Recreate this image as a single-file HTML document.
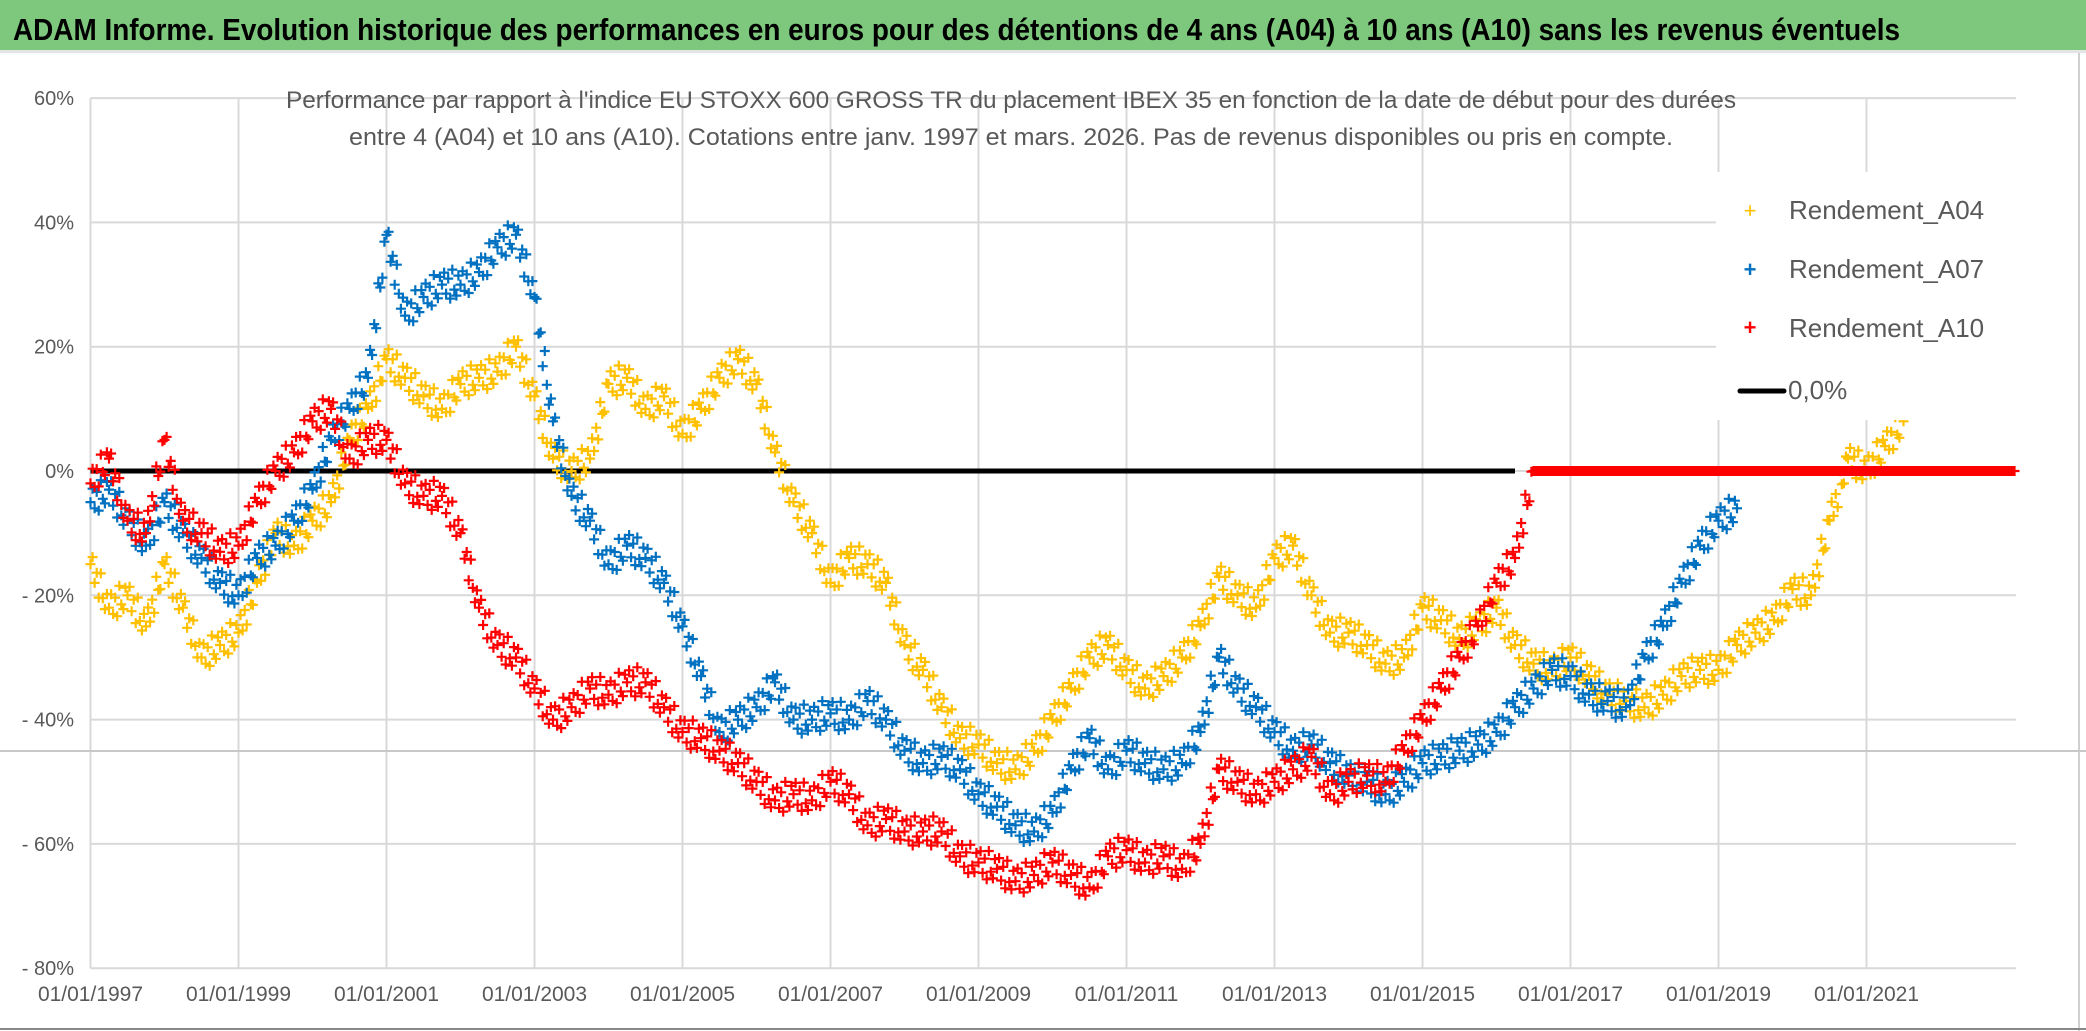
<!DOCTYPE html>
<html><head><meta charset="utf-8"><style>
html,body{margin:0;padding:0;background:#fff;}
svg{display:block;font-family:"Liberation Sans Narrow","Liberation Sans",sans-serif;}
</style></head><body>
<svg id="chart" width="2086" height="1031" viewBox="0 0 2086 1031" xmlns="http://www.w3.org/2000/svg">
<rect x="0" y="0" width="2086" height="1031" fill="#fff"/>
<rect x="0" y="0" width="2086" height="50" fill="#7DC87D"/>
<rect x="0" y="50" width="2086" height="3" fill="#e4e4e4"/>
<text x="13" y="40" font-size="31" font-weight="bold" fill="#000" textLength="1887" lengthAdjust="spacingAndGlyphs">ADAM Informe. Evolution historique des performances en euros pour des détentions de 4 ans (A04) à 10 ans (A10) sans les revenus éventuels</text>
<line x1="2079" y1="53" x2="2079" y2="1031" stroke="#d0d0d0" stroke-width="2"/>
<line x1="0" y1="1029" x2="2086" y2="1029" stroke="#888" stroke-width="2"/>
<g id="grid"></g>
<g id="axes"></g>
<line x1="0" y1="751" x2="2086" y2="751" stroke="#c8c8c8" stroke-width="2"/>
<g id="marks"></g>
<g>
<text x="1011" y="108" font-size="24" fill="#595959" text-anchor="middle" textLength="1450" lengthAdjust="spacingAndGlyphs">Performance par rapport à l'indice EU STOXX 600 GROSS TR  du placement IBEX 35 en fonction de la date de début pour des durées</text>
<text x="1011" y="145" font-size="24" fill="#595959" text-anchor="middle" textLength="1324" lengthAdjust="spacingAndGlyphs">entre 4 (A04) et 10 ans (A10). Cotations entre janv. 1997 et mars. 2026. Pas de revenus disponibles ou pris en compte.</text>
</g>
<g>
<rect x="1716" y="172" width="304" height="248" fill="#fff"/>
<g><text x="1750" y="218" font-size="22" fill="#FFC000" text-anchor="middle">+</text><text x="1789" y="219" font-size="26" fill="#595959">Rendement_A04</text></g>
<g><text x="1750" y="277" font-size="22" fill="#0070C0" text-anchor="middle" font-weight="bold">+</text><text x="1789" y="278" font-size="26" fill="#595959">Rendement_A07</text></g>
<g><text x="1750" y="335" font-size="22" fill="#FF0000" text-anchor="middle" font-weight="bold">+</text><text x="1789" y="337" font-size="26" fill="#595959">Rendement_A10</text></g>
<g><line x1="1740" y1="391" x2="1784" y2="391" stroke="#000" stroke-width="5" stroke-linecap="round"/><text x="1788" y="399" font-size="26" fill="#595959">0,0%</text></g>
</g>
</svg>
<script>
const yTicks = [60, 40, 20, 0, -20, -40, -60, -80];
const yTickLabels = ["60%", "40%", "20%", "0%", "- 20%", "- 40%", "- 60%", "- 80%"];
const xTicks = [1997, 1999, 2001, 2003, 2005, 2007, 2009, 2011, 2013, 2015, 2017, 2019, 2021];
const xTickLabels = ["01/01/1997","01/01/1999","01/01/2001","01/01/2003","01/01/2005","01/01/2007","01/01/2009","01/01/2011","01/01/2013","01/01/2015","01/01/2017","01/01/2019","01/01/2021"];
const seriesStep = 0.25;
const startA04 = 1997.0;
const valuesA04 = [-15,-22,-20,-25,-15,-22,-30,-28,-26,-18,-10,-12,-8,-5,5,10,18,15,12,10,14,15,16,20,12,2,0,2,14,15,10,12,6,10,15,18,14,3,-5,-10,-18,-14,-15,-18,-28,-32,-38,-43,-44,-47,-48,-45,-40,-35,-30,-28,-32,-35,-33,-30,-25,-17,-20,-22,-14,-12,-20,-26,-26,-28,-31,-30,-22,-24,-27,-25,-22,-28,-31,-32,-30,-33,-36,-37,-38,-36,-33,-32,-32,-28,-26,-24,-19,-20,-8,2,0,4,8];
const startA07 = 1997.0;
const valuesA07 = [-5,-3,-8,-12,-5,-10,-14,-18,-20,-14,-12,-8,-3,5,10,15,38,25,28,30,30,32,36,38,28,8,-4,-8,-15,-12,-14,-18,-25,-33,-42,-40,-38,-34,-40,-40,-39,-40,-37,-40,-45,-47,-46,-48,-52,-54,-57,-58,-55,-48,-43,-48,-45,-47,-48,-47,-42,-30,-35,-38,-42,-45,-44,-47,-49,-50,-52,-50,-47,-46,-45,-44,-42,-38,-35,-32,-33,-36,-37,-38,-30,-25,-18,-12,-8,-6];
const startA10 = 1997.0;
const valuesA10 = [-2,2,-8,-10,5,-8,-10,-13,-12,-5,0,3,8,10,2,5,5,-2,-4,-4,-10,-22,-28,-30,-35,-40,-38,-35,-36,-34,-34,-38,-42,-43,-45,-47,-50,-53,-52,-53,-50,-52,-57,-56,-58,-58,-58,-62,-63,-64,-66,-65,-63,-65,-67,-62,-61,-63,-62,-64,-60,-48,-50,-52,-50,-48,-46,-52,-50,-49,-50,-45,-40,-35,-30,-25,-18,-14,0,0,0,0,0,0,0,0,0,0,0,0,0,0,0,0,0,0,0,0,0,0,0,0,0,0,0];
const zeroLineStart = 1997.0;
const zeroLineEnd = 2016.25;

const NS = "http://www.w3.org/2000/svg";
const X0 = 90.5, PXY = 74.0, Y0 = 471, PXP = 6.215;
function xScale(yr){ return X0 + (yr - 1997) * PXY; }
function yScale(p){ return Y0 - p * PXP; }
const grid = document.getElementById('grid');
const axes = document.getElementById('axes');
const marks = document.getElementById('marks');
const plotRight = 2016, plotTop = yScale(60), plotBottom = yScale(-80);

yTicks.forEach((t,i)=>{
  const l = document.createElementNS(NS,'line');
  l.setAttribute('x1', X0); l.setAttribute('x2', plotRight);
  l.setAttribute('y1', yScale(t)); l.setAttribute('y2', yScale(t));
  l.setAttribute('stroke', '#d9d9d9'); l.setAttribute('stroke-width', '2');
  
  
  grid.appendChild(l);
  const tx = document.createElementNS(NS,'text');
  tx.setAttribute('x', 74); tx.setAttribute('y', yScale(t) + 7);
  tx.setAttribute('text-anchor', 'end'); tx.setAttribute('font-size', '20'); tx.setAttribute('fill', '#595959');
  tx.textContent = yTickLabels[i];
  
  
  axes.appendChild(tx);
});
xTicks.forEach((t,i)=>{
  const l = document.createElementNS(NS,'line');
  l.setAttribute('x1', xScale(t)); l.setAttribute('x2', xScale(t));
  l.setAttribute('y1', plotTop); l.setAttribute('y2', plotBottom);
  l.setAttribute('stroke', '#d9d9d9'); l.setAttribute('stroke-width', '2');
  
  
  grid.appendChild(l);
  const tx = document.createElementNS(NS,'text');
  tx.setAttribute('x', xScale(t)); tx.setAttribute('y', 1001);
  tx.setAttribute('text-anchor', 'middle'); tx.setAttribute('font-size', '21'); tx.setAttribute('fill', '#595959');
  tx.textContent = xTickLabels[i];
  
  
  axes.appendChild(tx);
});

const zl = document.createElementNS(NS,'line');
zl.setAttribute('x1', xScale(zeroLineStart)); zl.setAttribute('x2', xScale(zeroLineEnd));
zl.setAttribute('y1', yScale(0)); zl.setAttribute('y2', yScale(0));
zl.setAttribute('stroke', '#000'); zl.setAttribute('stroke-width', '5');


marks.appendChild(zl);

function drawSeries(start, vals, color, name){
  const g = document.createElementNS(NS,'g');
  
  
  let d = '';
  const sub = 9, h = 5;
  const bandPx = [0, -12, 9, -6, 14, -15, 5, 11, -9];
  for(let i=0;i<vals.length;i++){
    const next = i < vals.length-1 ? vals[i+1] : vals[i];
    const n = i < vals.length-1 ? sub : 1;
    const flat = (vals[i] === 0 && next === 0);
    for(let k=0;k<n;k++){
      const f = k/sub;
      const x = xScale(start + (i+f)*seriesStep);
      const y = yScale(vals[i] + (next - vals[i])*f) + (flat ? 0 : bandPx[k]);
      d += 'M'+(x-h).toFixed(1)+' '+y.toFixed(1)+'h'+(2*h)+'M'+x.toFixed(1)+' '+(y-h).toFixed(1)+'v'+(2*h);
    }
  }
  const p = document.createElementNS(NS,'path');
  p.setAttribute('d', d); p.setAttribute('stroke', color); p.setAttribute('stroke-width', '2.2'); p.setAttribute('fill','none');
  
  
  g.appendChild(p);
  marks.appendChild(g);
}
drawSeries(startA04, valuesA04, '#FFC000', 'series-a04');
drawSeries(startA07, valuesA07, '#0070C0', 'series-a07');
drawSeries(startA10, valuesA10, '#FF0000', 'series-a10');
</script>
</body></html>
